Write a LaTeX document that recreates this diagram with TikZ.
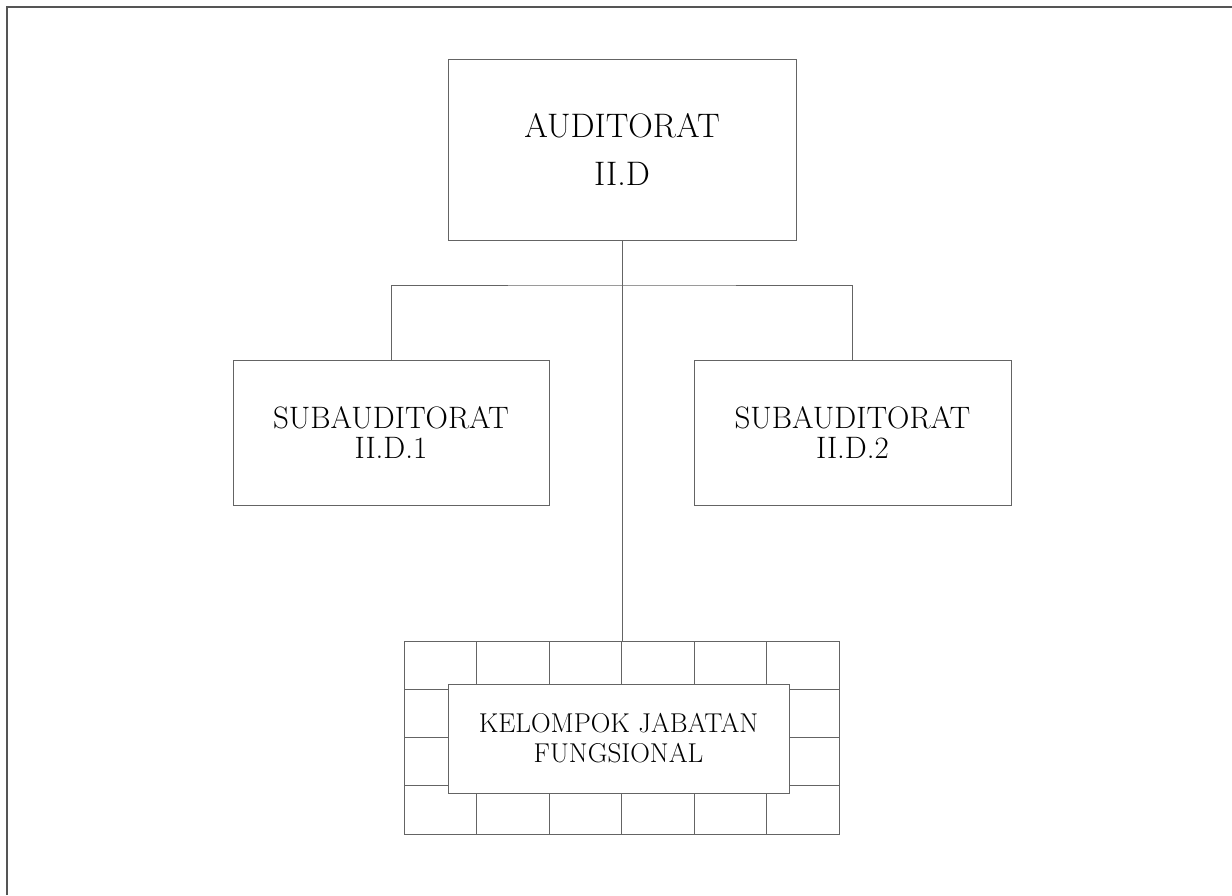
\documentclass[tikz,border=0pt]{standalone}
\usepackage{fontspec}
\usetikzlibrary{positioning}

\definecolor{boxline}{RGB}{100,100,100}
\definecolor{frameline}{RGB}{85,85,85}

\begin{document}
\begin{tikzpicture}[x=1pt,y=-1pt,
        unit box/.style={
          draw=boxline,
          line width=0.8pt,
          fill=white,
          inner sep=0pt,
          align=center,
      },
        link/.style={draw=boxline, line width=0.8pt},
      ]
      \useasboundingbox (0,0) rectangle (1232,895);
      \draw[frameline, line width=2.2pt] (7,895) -- (7,7) -- (1232,7);
      \node[unit box, minimum width=348pt, minimum height=181pt,
            font=\fontsize{34}{48}\selectfont] (aud) at (622,149.5) {AUDITORAT\\II.D};
      \node[unit box, minimum width=316pt, minimum height=145pt,
            font=\fontsize{31}{30}\selectfont] (sub1) at (391,432.5) {SUBAUDITORAT\\II.D.1};
      \node[unit box, minimum width=317pt, minimum height=145pt,
            font=\fontsize{31}{30}\selectfont] (sub2) at (852.5,432.5) {SUBAUDITORAT\\II.D.2};
      % kotak jabatan fungsional
      \node[draw=boxline, line width=0.8pt, minimum width=435pt, minimum height=193pt,
            inner sep=0pt] (grid) at (621.5,737.5) {};
      \foreach \x in {476.5,549,621.5,694,766.5}
        \draw[link] (\x,641) -- (\x,834);
      \foreach \y in {689.25,737.5,785.75}
        \draw[link] (404,\y) -- (839,\y);
      \node[unit box, minimum width=341pt, minimum height=109pt,
            font=\fontsize{27.2}{30}\selectfont] (kjf) at (618.5,738.5) {KELOMPOK JABATAN\\FUNGSIONAL};
      \coordinate (bar) at (622,285);
      \draw[link] (aud.south) -- (grid.north -| aud.south);
      \draw[link] (sub1.north) |- (bar) -| (sub2.north);
    \end{tikzpicture}
\end{document}
